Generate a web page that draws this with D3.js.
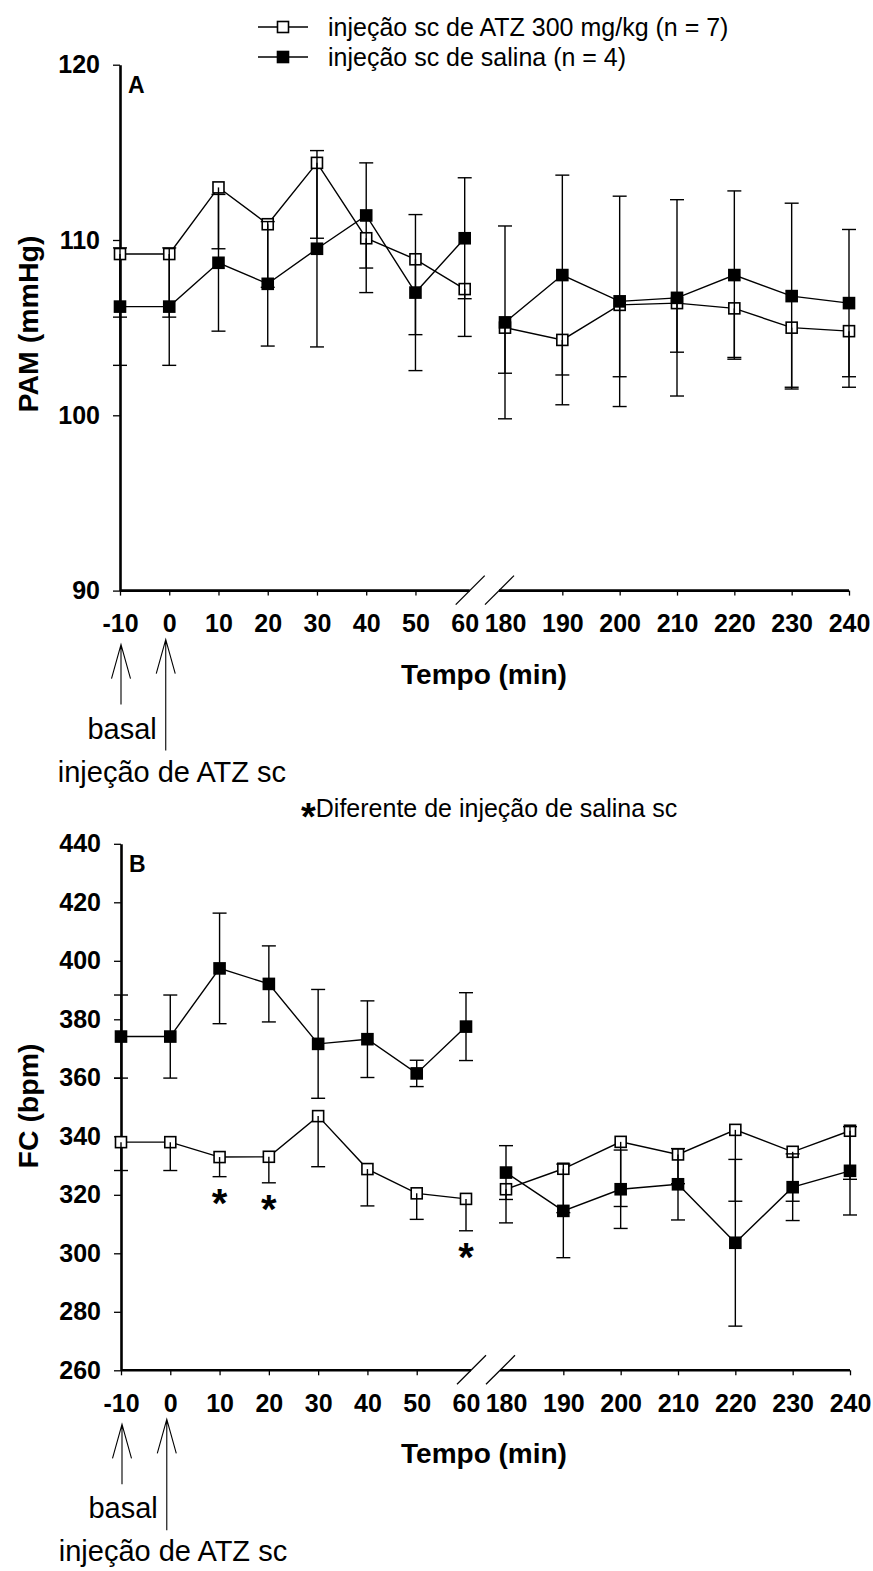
<!DOCTYPE html>
<html><head><meta charset="utf-8">
<script src="https://cdn.jsdelivr.net/npm/d3@7"></script>
<style>
body{margin:0;background:#fff}
svg{display:block}
text{font-family:"Liberation Sans",Arial,sans-serif;fill:#000}
</style>
</head><body>
<svg id="c" width="873" height="1571"></svg>
<script>
// ---------------- DATA ----------------
const timesLeft = [-10, 0, 10, 20, 30, 40, 50, 60];
const timesRight = [180, 190, 200, 210, 220, 230, 240];
const times = timesLeft.concat(timesRight);

const seriesNames = ["injeção sc de ATZ 300 mg/kg (n = 7)", "injeção sc de salina (n = 4)"];

// Panel A: PAM (mmHg)
const pamATZ     = [109.2, 109.2, 113.0, 110.9, 114.4, 110.1, 108.9, 107.2, 105.0, 104.3, 106.3, 106.4, 106.1, 105.0, 104.8];
const pamATZErr  = [3.6, 3.6, 3.5, 3.6, 4.3, 3.1, 4.3, 2.7, 2.6, 3.7, 4.1, 2.8, 2.8, 3.4, 3.2];
const pamSal     = [106.2, 106.2, 108.7, 107.5, 109.5, 111.4, 107.0, 110.1, 105.3, 108.0, 106.5, 106.7, 108.0, 106.8, 106.4];
const pamSalErr  = [3.35, 3.35, 3.9, 3.55, 5.6, 3.0, 4.45, 3.45, 5.5, 5.7, 6.0, 5.6, 4.8, 5.3, 4.2];

// Panel B: FC (bpm)
const fcATZ      = [338.0, 338.0, 332.9, 333.0, 346.9, 328.8, 320.5, 318.6, 321.9, 328.9, 338.1, 333.8, 342.2, 334.7, 341.9];
const fcATZErr   = [9.7, 9.7, 6.7, 8.9, 17.3, 12.6, 8.9, 10.9, 11.5, 15.0, 22.1, 10.0, 24.4, 16.9, 16.6];
const fcSal      = [374.1, 374.1, 397.4, 392.1, 371.6, 373.2, 361.5, 377.5, 327.6, 314.5, 321.9, 323.6, 303.6, 322.6, 328.2];
const fcSalErr   = [14.2, 14.2, 18.9, 13.0, 18.6, 13.1, 4.5, 11.6, 9.2, 16.0, 13.4, 12.2, 28.5, 11.4, 15.1];
const fcSigTimes = [10, 20, 60];

const pamTicks = [90, 100, 110, 120];
const fcTicks  = [260, 280, 300, 320, 340, 360, 380, 400, 420, 440];
const noTickMark = [60, 180];

// ---------------- DRAW ----------------
const svg = d3.select("#c");
svg.append("rect").attr("width", 873).attr("height", 1571).attr("fill", "#fff");
const FONT = '"Liberation Sans",Arial,sans-serif';

function drawPanel(cfg, atz, atzErr, sal, salErr, sigTimes) {
  const g = svg.append("g");
  const y = d3.scaleLinear().domain(cfg.yDomain).range(cfg.yRange);
  const xl = d3.scaleLinear().domain([timesLeft[0], timesLeft[timesLeft.length-1]]).range(cfg.xLeft);
  const xr = d3.scaleLinear().domain([timesRight[0], timesRight[timesRight.length-1]]).range(cfg.xRight);
  const xp = t => t <= 60 ? xl(t) : xr(t);
  const axisY = y(cfg.yDomain[0]);

  // y axis
  const ya = g.append("g").attr("transform", `translate(${cfg.xLeft[0]},0)`)
    .call(d3.axisLeft(y).tickValues(cfg.yTicks).tickSize(7).tickSizeOuter(0).tickPadding(13));
  ya.select(".domain").attr("stroke-width", 2.6).attr("stroke", "#000");
  ya.selectAll(".tick line").attr("stroke-width", 1.3);
  ya.selectAll(".tick text").attr("font-family", FONT).attr("font-size", 25).attr("font-weight", "bold").attr("fill", "#000");

  // x axes (two segments)
  [[xl, timesLeft], [xr, timesRight]].forEach(([sc, tv]) => {
    const xa = g.append("g").attr("transform", `translate(0,${axisY})`)
      .call(d3.axisBottom(sc).tickValues(tv).tickSize(5).tickPadding(19).tickFormat(d => String(d)));
    xa.select(".domain").remove();
    xa.selectAll(".tick line").attr("stroke-width", 1.3);
    xa.selectAll(".tick").filter(d => noTickMark.includes(d)).select("line").remove();
    xa.selectAll(".tick text").attr("font-family", FONT).attr("font-size", 25).attr("font-weight", "bold").attr("fill", "#000");
  });
  // x axis lines + break marks
  const b1 = xl(60) + 5, b2 = xr(180) - 6;
  g.append("line").attr("x1", cfg.xLeft[0]).attr("x2", b1).attr("y1", axisY).attr("y2", axisY).attr("stroke", "#000").attr("stroke-width", 2.6);
  g.append("line").attr("x1", b2).attr("x2", xr(240)).attr("y1", axisY).attr("y2", axisY).attr("stroke", "#000").attr("stroke-width", 2.6);
  [b1, b2].forEach(bx => {
    g.append("line").attr("x1", bx - 14).attr("y1", axisY + 14).attr("x2", bx + 15).attr("y2", axisY - 15)
      .attr("stroke", "#000").attr("stroke-width", 1.3);
  });

  // lines
  const line = d3.line().x(d => xp(d.t)).y(d => y(d.v));
  const mk = arr => times.map((t, i) => ({t, v: arr[i]}));
  const atzD = mk(atz), salD = mk(sal);
  const segs = d => [d.filter(p => p.t <= 60), d.filter(p => p.t > 60)];

  segs(atzD).forEach(s => g.append("path").attr("d", line(s)).attr("fill", "none").attr("stroke", "#000").attr("stroke-width", 1.4));
  g.selectAll(".mo").data(atzD).enter().append("rect")
    .attr("x", d => xp(d.t) - 5.5).attr("y", d => y(d.v) - 5.5).attr("width", 11).attr("height", 11)
    .attr("fill", "#fff").attr("stroke", "#000").attr("stroke-width", 1.6);
  segs(salD).forEach(s => g.append("path").attr("d", line(s)).attr("fill", "none").attr("stroke", "#000").attr("stroke-width", 1.4));
  g.selectAll(".mf").data(salD).enter().append("rect")
    .attr("x", d => xp(d.t) - 6.3).attr("y", d => y(d.v) - 6.3).attr("width", 12.6).attr("height", 12.6)
    .attr("fill", "#000");

  // error bars
  const eb = (x, y1, y2, caps) => {
    g.append("line").attr("x1", x).attr("x2", x).attr("y1", y1).attr("y2", y2).attr("stroke", "#000").attr("stroke-width", 1.4);
    caps.forEach(cy => g.append("line").attr("x1", x - 7).attr("x2", x + 7).attr("y1", cy).attr("y2", cy).attr("stroke", "#000").attr("stroke-width", 1.4));
  };
  times.forEach((t, i) => {
    eb(xp(t), y(atz[i]), y(atz[i] - atzErr[i]), [y(atz[i] - atzErr[i])]);
    eb(xp(t), y(sal[i] + salErr[i]), y(sal[i] - salErr[i]), [y(sal[i] + salErr[i]), y(sal[i] - salErr[i])]);
  });

  // significance asterisks
  sigTimes.forEach(t => {
    const i = times.indexOf(t);
    g.append("text").attr("x", xp(t)).attr("y", y(atz[i] - atzErr[i]) + 40)
      .attr("text-anchor", "middle").attr("font-size", 40).attr("font-weight", "bold").text("*");
  });

  // panel letter
  g.append("text").attr("x", cfg.xLeft[0] + 8).attr("y", cfg.yRange[1] + 28)
    .attr("font-size", 23).attr("font-weight", "bold").text(cfg.letter);

  // axis titles
  g.append("text").attr("transform", `translate(${cfg.yTitleX},${cfg.yTitleY}) rotate(-90)`)
    .attr("text-anchor", "middle").attr("dominant-baseline", "central")
    .attr("font-size", 28.5).attr("font-weight", "bold").text(cfg.yTitle);
  g.append("text").attr("x", 484).attr("y", axisY + 93)
    .attr("text-anchor", "middle").attr("font-size", 28).attr("font-weight", "bold").text("Tempo (min)");

  // arrows
  const arrow = (x, tip, bottom, headDy) => {
    g.append("path").attr("d", `M${x},${tip}L${x},${bottom}M${x - 9.5},${tip + headDy}L${x},${tip}L${x + 9.5},${tip + headDy}`)
      .attr("fill", "none").attr("stroke", "#000").attr("stroke-width", 1.1);
  };
  const a1 = xp(-10) + 1, a2 = xp(0) - 3.5;
  arrow(a1, axisY + 54, axisY + 114, 34);
  arrow(a2, axisY + 49, axisY + 160, 34);
  g.append("text").attr("x", a2 - 9).attr("y", axisY + 148).attr("text-anchor", "end").attr("font-size", 29).text("basal");
  g.append("text").attr("x", a2 - 108).attr("y", axisY + 191).attr("font-size", 29).text("injeção de ATZ sc");
}

drawPanel({yDomain: [90, 120], yRange: [590.6, 64.7], xLeft: [120, 464.7], xRight: [505, 849],
           yTicks: pamTicks, letter: "A", yTitle: "PAM (mmHg)", yTitleX: 28, yTitleY: 324},
          pamATZ, pamATZErr, pamSal, pamSalErr, []);
drawPanel({yDomain: [260, 440], yRange: [1370.3, 843.8], xLeft: [121, 466], xRight: [506, 850],
           yTicks: fcTicks, letter: "B", yTitle: "FC (bpm)", yTitleX: 28, yTitleY: 1106},
          fcATZ, fcATZErr, fcSal, fcSalErr, fcSigTimes);

// legend
const leg = svg.append("g");
seriesNames.forEach((name, i) => {
  const cy = 27 + i * 30;
  leg.append("line").attr("x1", 258).attr("x2", 308).attr("y1", cy).attr("y2", cy).attr("stroke", "#000").attr("stroke-width", 1.4);
  if (i === 0) {
    leg.append("rect").attr("x", 283 - 5.5).attr("y", cy - 5.5).attr("width", 11).attr("height", 11)
      .attr("fill", "#fff").attr("stroke", "#000").attr("stroke-width", 1.6);
  } else {
    leg.append("rect").attr("x", 283 - 6.3).attr("y", cy - 6.3).attr("width", 12.6).attr("height", 12.6).attr("fill", "#000");
  }
  leg.append("text").attr("x", 328).attr("y", cy + 9).attr("font-size", 25).text(name);
});

// significance note
const note = svg.append("text").attr("x", 301).attr("y", 817).attr("font-size", 25);
note.append("tspan").attr("font-weight", "bold").attr("font-size", 38).attr("dy", 13).text("*");
note.append("tspan").attr("dy", -13).text("Diferente de injeção de salina sc");
</script>
</body></html>
